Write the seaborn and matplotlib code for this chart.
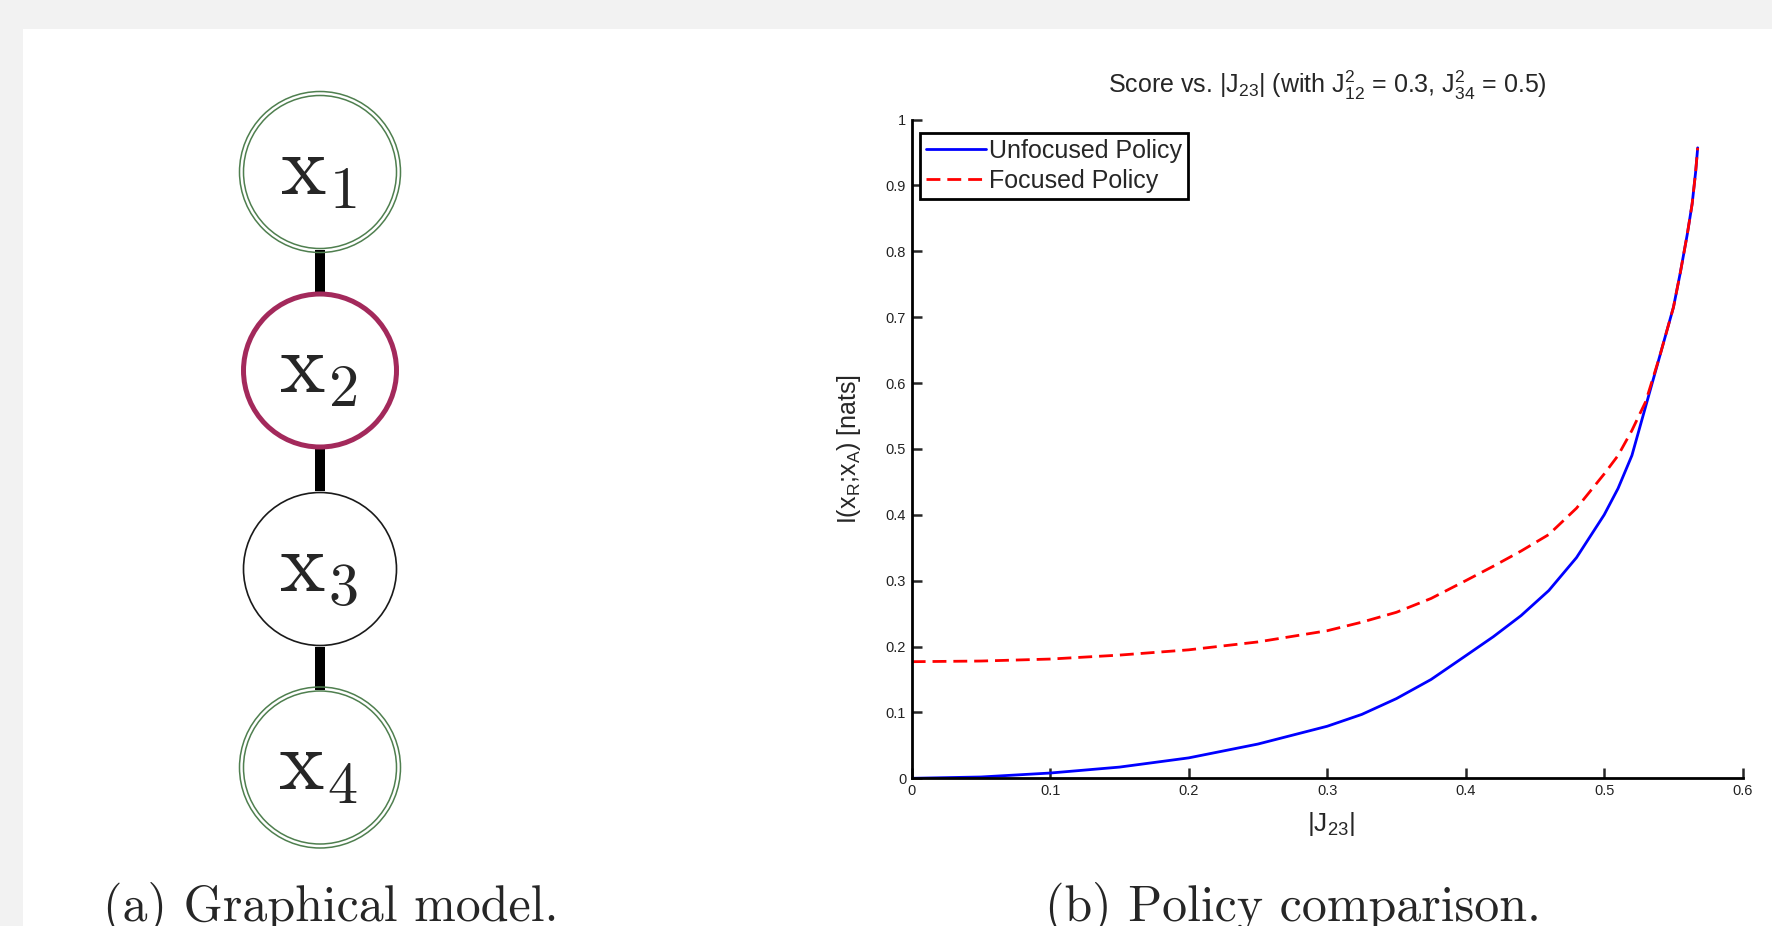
import seaborn as sns
import matplotlib.pyplot as plt
import matplotlib.patches as mpatches
import pandas as pd

# curve values
j23_unfocused = [0, 0.05, 0.1, 0.15, 0.2, 0.25, 0.3, 0.325, 0.35, 0.375, 0.4, 0.42, 0.44, 0.46,
                 0.48, 0.5, 0.51, 0.52, 0.53, 0.54, 0.55, 0.555, 0.56, 0.5635, 0.566, 0.5675]
info_unfocused = [0, 0.002, 0.008, 0.017, 0.031, 0.052, 0.079, 0.097, 0.121, 0.150, 0.186, 0.215,
                  0.247, 0.285, 0.335, 0.400, 0.440, 0.490, 0.565, 0.640, 0.715, 0.768, 0.826,
                  0.872, 0.920, 0.957]
j23_focused = [0, 0.05, 0.1, 0.15, 0.2, 0.25, 0.3, 0.325, 0.35, 0.375, 0.4, 0.42, 0.44, 0.46,
               0.48, 0.5, 0.51, 0.52, 0.53, 0.54, 0.55, 0.555, 0.56, 0.5635, 0.566, 0.5675]
info_focused = [0.177, 0.178, 0.181, 0.187, 0.195, 0.207, 0.224, 0.237, 0.252, 0.273, 0.300, 0.322,
                0.345, 0.370, 0.410, 0.462, 0.490, 0.528, 0.572, 0.640, 0.715, 0.768, 0.826,
                0.872, 0.920, 0.957]

policies = ["Unfocused Policy", "Focused Policy"]
x_ticks = [0, 0.1, 0.2, 0.3, 0.4, 0.5, 0.6]
x_tick_labels = ["0", "0.1", "0.2", "0.3", "0.4", "0.5", "0.6"]
y_ticks = [0, 0.1, 0.2, 0.3, 0.4, 0.5, 0.6, 0.7, 0.8, 0.9, 1]
y_tick_labels = ["0", "0.1", "0.2", "0.3", "0.4", "0.5", "0.6", "0.7", "0.8", "0.9", "1"]

nodes = [r"$\mathrm{x}_1$", r"$\mathrm{x}_2$", r"$\mathrm{x}_3$", r"$\mathrm{x}_4$"]
node_kind = ["observed", "target", "plain", "observed"]

df = pd.concat([
    pd.DataFrame({"J23": j23_unfocused, "info": info_unfocused, "policy": policies[0]}),
    pd.DataFrame({"J23": j23_focused, "info": info_focused, "policy": policies[1]}),
])

sns.set_theme(style="ticks")
plt.rcParams["font.family"] = ["Liberation Sans", "DejaVu Sans"]
plt.rcParams["mathtext.fontset"] = "custom"
plt.rcParams["mathtext.rm"] = "Liberation Sans"
plt.rcParams["mathtext.it"] = "Liberation Sans:italic"

W, H = 1772, 926
fig = plt.figure(figsize=(W / 100, H / 100), dpi=100, facecolor="#f2f2f2")
fig.patches.append(mpatches.Rectangle((23 / W, 0), 1 - 23 / W, (H - 29) / H,
                                      transform=fig.transFigure, facecolor="white",
                                      edgecolor="none", zorder=-10))

# graphical model drawn in pixel coordinates
gax = fig.add_axes([0, 0, 1, 1])
gax.set_xlim(0, W)
gax.set_ylim(H, 0)
gax.axis("off")
cx, y0, step = 320, 172, 198.5
for i in range(len(nodes) - 1):
    gax.plot([cx, cx], [y0 + i * step + 78, y0 + (i + 1) * step - 78], color="black",
             lw=7.2, solid_capstyle="butt", zorder=1)
for i, (lab, kind) in enumerate(zip(nodes, node_kind)):
    cy = y0 + i * step
    if kind == "observed":
        for r in (80.5, 76.5):
            gax.add_patch(mpatches.Circle((cx, cy), r, fill=False, ec="#4f7f4f", lw=1.1, zorder=2))
    elif kind == "target":
        gax.add_patch(mpatches.Circle((cx, cy), 76.5, fill=False, ec="#a3295b", lw=3.6, zorder=2))
    else:
        gax.add_patch(mpatches.Circle((cx, cy), 76.5, fill=False, ec="#1a1a1a", lw=1.2, zorder=2))
    gax.text(cx - 2, cy, lab, ha="center", va="center", fontsize=62, math_fontfamily="cm", zorder=3)

# policy comparison plot
ax = fig.add_axes([911.7 / W, 1 - 778.3 / H, 831 / W, (778.3 - 119.5) / H])
sns.lineplot(data=df, x="J23", y="info", hue="policy", style="policy",
             hue_order=policies, style_order=policies,
             palette={policies[0]: "blue", policies[1]: "red"},
             dashes={policies[0]: "", policies[1]: (5, 2.5)},
             estimator=None, sort=False, lw=2, ax=ax)
ax.set_xlim(0, 0.6)
ax.set_ylim(0, 1)
ax.set_xticks(x_ticks, x_tick_labels)
ax.set_yticks(y_ticks, y_tick_labels)
ax.tick_params(direction="in", length=7, width=1.8, labelsize=10.5, labelcolor="#222222")
ax.tick_params(axis="x", pad=4)
ax.tick_params(axis="y", pad=4)
for s in ("top", "right"):
    ax.spines[s].set_visible(False)
for s in ("left", "bottom"):
    ax.spines[s].set_linewidth(2)
    ax.spines[s].set_color("black")
ax.set_title(r"Score vs. |J$_{23}$| (with $\mathrm{J}^2_{12}$ = 0.3, $\mathrm{J}^2_{34}$ = 0.5)",
             fontsize=18, pad=19)
ax.set_xlabel(r"|J$_{23}$|", fontsize=19)
ax.set_ylabel(r"I(x$_{\mathrm{R}}$;x$_{\mathrm{A}}$) [nats]", fontsize=18)
ax.xaxis.set_label_coords(0.505, -0.048)
ax.yaxis.set_label_coords(-0.059, 0.5)

handles, labels = ax.get_legend_handles_labels()
leg = ax.legend(handles, labels, loc="upper left", bbox_to_anchor=(8.3 / 831, 1 - 13.2 / 658.8),
                borderaxespad=0, fontsize=18, handlelength=2.4, handletextpad=0.1,
                labelspacing=0.25, borderpad=0.25, fancybox=False, framealpha=1,
                edgecolor="black")
leg.get_frame().set_linewidth(2)

fig.text(331 / W, 5 / H, "(a) Graphical model.", ha="center", va="baseline",
         fontsize=36, family="cmr10")
fig.text(1293 / W, 5 / H, "(b) Policy comparison.", ha="center", va="baseline",
         fontsize=36, family="cmr10")

fig.savefig("out.png", dpi=100, facecolor=fig.get_facecolor())
